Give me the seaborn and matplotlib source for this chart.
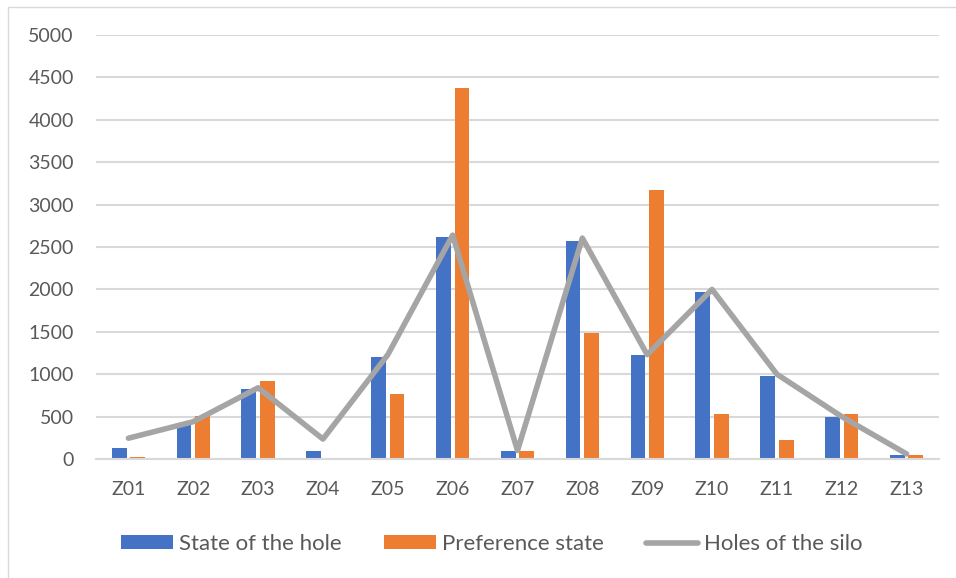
import numpy as np
import pandas as pd
import matplotlib
matplotlib.use("Agg")
import matplotlib.pyplot as plt
from matplotlib.patches import Patch
from matplotlib.lines import Line2D
import seaborn as sns

# Silo zones and their measured values
zones = ["Z01", "Z02", "Z03", "Z04", "Z05", "Z06", "Z07",
         "Z08", "Z09", "Z10", "Z11", "Z12", "Z13"]
hole_state = [125, 400, 825, 100, 1205, 2620, 100, 2575, 1225, 1975, 980, 500, 45]
preference_state = [20, 510, 920, 0, 765, 4370, 100, 1490, 3175, 530, 225, 530, 45]
silo_holes = [245, 440, 840, 235, 1230, 2640, 100, 2605, 1230, 2000, 1000, 500, 60]

series_names = ["State of the hole", "Preference state", "Holes of the silo"]
colors = ["#4472C4", "#ED7D31", "#A5A5A5"]
yticks = [0, 500, 1000, 1500, 2000, 2500, 3000, 3500, 4000, 4500, 5000]

bars = pd.DataFrame({
    "zone": zones * 2,
    "value": hole_state + preference_state,
    "series": [series_names[0]] * len(zones) + [series_names[1]] * len(zones),
})

sns.set_theme(style="white")
plt.rcParams["font.family"] = ["Lato", "DejaVu Sans"]

fig = plt.figure(figsize=(9.56, 5.78), dpi=100)
ax = fig.add_axes([96 / 956, 119 / 578, 843 / 956, 424 / 578])

sns.barplot(data=bars, x="zone", y="value", hue="series", order=zones,
            hue_order=series_names[:2], palette=colors[:2],
            width=0.57, gap=0.2, saturation=1, linewidth=0,
            legend=False, ax=ax)
sns.pointplot(x=zones, y=silo_holes, order=zones, color=colors[2],
              markers="", errorbar=None, lw=4,
              solid_capstyle="round", solid_joinstyle="round", ax=ax)

ax.set_ylim(0, 5000)
ax.set_xlim(-0.5, len(zones) - 0.5)
ax.set_yticks(yticks)
ax.set_yticklabels([str(v) for v in yticks])
ax.set_xlabel("")
ax.set_ylabel("")
ax.yaxis.grid(True, color="#D9D9D9", lw=1.5)
ax.set_axisbelow(True)
for side in ["left", "right", "top"]:
    ax.spines[side].set_visible(False)
ax.spines["bottom"].set_color("#D9D9D9")
ax.spines["bottom"].set_linewidth(1.5)
ax.tick_params(axis="both", length=0, labelsize=14, labelcolor="#595959")
ax.tick_params(axis="y", pad=16)
ax.tick_params(axis="x", pad=16)

handles = [
    Patch(facecolor=colors[0], edgecolor="none", label=series_names[0]),
    Patch(facecolor=colors[1], edgecolor="none", label=series_names[1]),
    Line2D([0], [0], color=colors[2], lw=4, solid_capstyle="round",
           label=series_names[2]),
]
leg = fig.legend(handles=handles, loc="center", bbox_to_anchor=(492 / 956, 1 - 544 / 578),
                 ncol=3, frameon=False, fontsize=16, handlelength=2.34,
                 handleheight=0.59, handletextpad=0.27, columnspacing=1.9)
for t in leg.get_texts():
    t.set_color("#595959")

# chart frame
fig.add_artist(Line2D([7.5 / 956, 7.5 / 956], [0, 1 - 6.5 / 578],
                      transform=fig.transFigure, color="#D9D9D9", lw=1))
fig.add_artist(Line2D([7.5 / 956, 1], [1 - 6.5 / 578, 1 - 6.5 / 578],
                      transform=fig.transFigure, color="#D9D9D9", lw=1))

fig.savefig("out.png", dpi=100)
